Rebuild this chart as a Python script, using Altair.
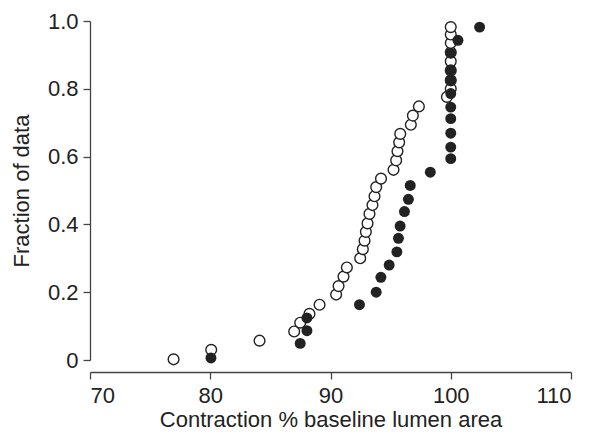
import altair as alt
import pandas as pd

# Open circles (group 1)
open_x = [76.95, 80.08, 84.1, 86.98, 87.48, 88.25, 89.09, 90.47, 90.67, 91.08,
          91.36, 92.47, 92.69, 92.83, 92.94, 93.08, 93.24, 93.49, 93.66, 93.8,
          94.2, 95.24, 95.46, 95.57, 95.71, 95.8, 96.68, 96.85, 97.35, 99.68,
          100.0, 100.0, 100.0, 100.0, 100.0, 100.0, 100.0, 100.0]
open_y = [0.002, 0.03, 0.057, 0.084, 0.11, 0.136, 0.163, 0.193, 0.218, 0.246,
          0.273, 0.30, 0.327, 0.352, 0.378, 0.403, 0.431, 0.457, 0.483, 0.51,
          0.535, 0.561, 0.589, 0.616, 0.642, 0.667, 0.694, 0.721, 0.748, 0.776,
          0.80, 0.825, 0.854, 0.881, 0.908, 0.935, 0.96, 0.982]

# Filled circles (group 2)
filled_x = [80.06, 87.48, 88.04, 88.04, 92.41, 93.8, 94.19, 94.88, 95.52, 95.65,
            95.79, 96.15, 96.48, 96.63, 98.3, 100.0, 100.0, 100.0, 100.0, 100.0,
            100.0, 100.0, 100.0, 100.0, 100.6, 102.4]
filled_y = [0.006, 0.049, 0.0865, 0.124, 0.163, 0.20, 0.244, 0.28, 0.319, 0.359,
            0.395, 0.438, 0.474, 0.515, 0.554, 0.594, 0.628, 0.669, 0.712, 0.746,
            0.786, 0.825, 0.856, 0.905, 0.943, 0.982]

x_ticks = [70, 80, 90, 100, 110]
y_ticks = [0, 0.2, 0.4, 0.6, 0.8, 1.0]

df_open = pd.DataFrame({"x": open_x, "y": open_y})
df_filled = pd.DataFrame({"x": filled_x, "y": filled_y})

FONT = "Liberation Sans, Arial, sans-serif"
INK = "#222222"

xenc = alt.X("x:Q",
             scale=alt.Scale(domain=[70, 110], nice=False, zero=False),
             axis=alt.Axis(title="Contraction % baseline lumen area",
                           values=x_ticks, format="d", offset=12,
                           grid=False, tickSize=7, labelPadding=6,
                           titlePadding=3))
yenc = alt.Y("y:Q",
             scale=alt.Scale(domain=[0, 1], nice=False),
             axis=alt.Axis(title="Fraction of data", values=y_ticks,
                           labelExpr="datum.value == 0 ? '0' : format(datum.value, '.1f')",
                           grid=False, tickSize=7, labelPadding=5,
                           titlePadding=14))

open_layer = alt.Chart(df_open).mark_point(
    shape="circle", filled=False, fill="white", stroke=INK,
    strokeWidth=1.4, size=115, opacity=1
).encode(x=xenc, y=yenc)

filled_layer = alt.Chart(df_filled).mark_point(
    shape="circle", filled=True, color=INK, size=120, opacity=1
).encode(x=xenc, y=yenc)

chart = (open_layer + filled_layer).properties(
    width=481, height=339,
    autosize=alt.AutoSizeParams(type="none"),
    padding={"left": 82, "top": 13, "right": 10, "bottom": 75},
).configure_view(stroke=None).configure_axis(
    domainColor="#444444", tickColor="#444444", domainWidth=1.3, tickWidth=1.3,
    labelFont=FONT, titleFont=FONT, labelFontSize=22, titleFontSize=22,
    labelColor=INK, titleColor=INK, titleFontWeight="normal",
)

chart.save("out.html", embed_options={"renderer": "svg", "actions": False})
